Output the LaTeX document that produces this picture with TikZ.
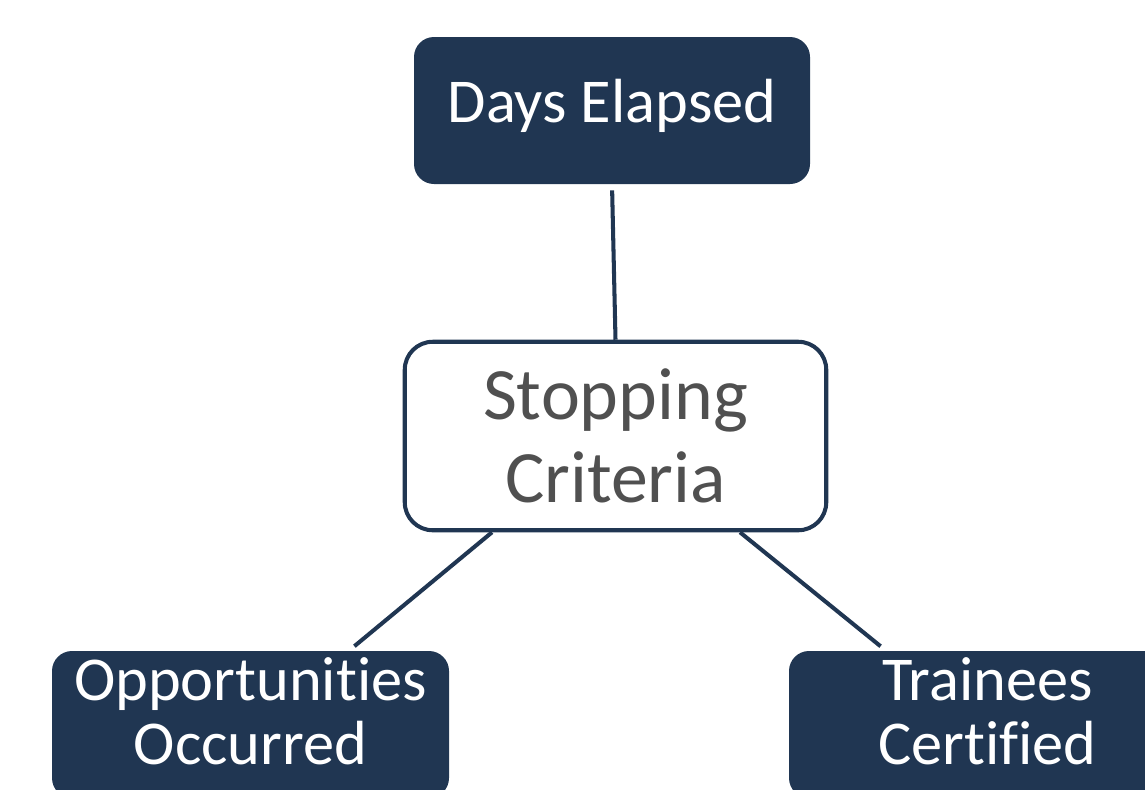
\documentclass[tikz,border=0pt]{standalone}
\usepackage{fontspec}
\setmainfont{Carlito}[Ligatures=NoCommon]
\usetikzlibrary{positioning}

\definecolor{navy}{RGB}{32,54,82}
\definecolor{txtgray}{RGB}{80,80,80}

\begin{document}
\begin{tikzpicture}[node distance=2cm,on grid,
    darkbox/.style={rectangle,rounded corners=0.4cm,fill=navy,text=white,
        minimum width=7.94cm,minimum height=2.94cm,inner sep=0pt,align=center,
        font=\fontsize{35.5pt}{36.5pt}\selectfont},
    stopbox/.style={rectangle,rounded corners=0.56cm,draw=navy,line width=2.3pt,fill=white,
        text=txtgray,minimum width=8.43cm,minimum height=3.77cm,inner sep=0pt,align=center,
        font=\fontsize{42pt}{47.6pt}\selectfont},
    link/.style={draw=navy,line width=2.3pt}]
                \useasboundingbox (0,0) rectangle (22.9,-15.78);
                \node[darkbox,minimum width=7.92cm,text height=0.9cm,text depth=0.44cm] (days) at (12.24,-2.21) {Days Elapsed};
                \node[stopbox] (stop) [below right=6.51cm and 0.07cm of days] {Stopping\\Criteria};
                \node[darkbox] (opp) [below left=5.77cm and 7.3cm of stop] {Opportunities\\Occurred\rule[-0.54cm]{0pt}{0pt}};
                \node[darkbox] (cert) [below right=5.77cm and 7.44cm of stop] {Trainees\\Certified\rule[-0.54cm]{0pt}{0pt}};
                \draw[link,shorten <=0.12cm] (days.south) -- (stop.north);
                \draw[link,shorten >=0.14cm] ([xshift=-2.47cm]stop.south) -- ([xshift=1.97cm]opp.north);
                \draw[link,shorten >=0.14cm] ([xshift=2.49cm]stop.south) -- ([xshift=-2.03cm]cert.north);
            \end{tikzpicture}
\end{document}
